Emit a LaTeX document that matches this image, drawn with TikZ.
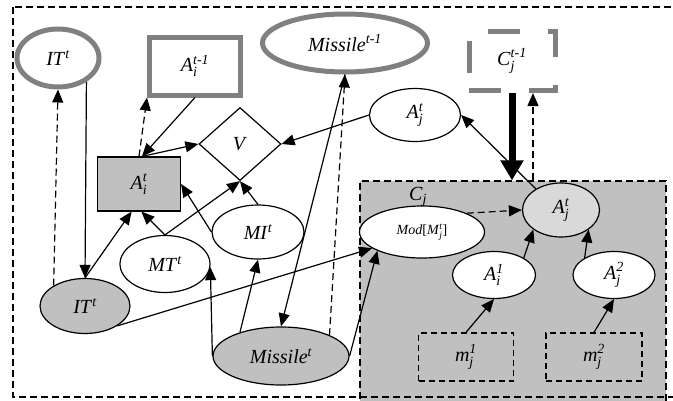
\documentclass[tikz,border=0pt]{standalone}
\usepackage{amsmath}
\usepackage{fontspec}
\setmainfont{Liberation Serif}
\usetikzlibrary{shapes.geometric,arrows.meta}
\definecolor{rimgray}{RGB}{128,128,128}
\definecolor{boxgray}{RGB}{192,192,192}
\definecolor{softgray}{RGB}{217,217,217}
\newcommand{\sps}[2]{\textit{#1}$^{\textit{#2}}$}
\newcommand{\sbsp}[3]{\textit{#1}$_{\textit{#2}}^{\textit{#3}}$}
\tikzset{
  var/.style={ellipse,draw,line width=1.2pt,inner sep=0pt,fill=white},
  obs/.style={var,fill=boxgray},
  oldvar/.style={ellipse,draw=rimgray,line width=5pt,inner sep=0pt},
  oldbox/.style={rectangle,draw=rimgray,line width=5pt,inner sep=0pt},
  msgbox/.style={rectangle,draw,line width=1.2pt,dash pattern=on 6pt off 4pt,inner sep=0pt},
  arr/.style={line width=1.2pt,-{Triangle[length=13pt,width=11pt]}},
  darr/.style={arr,dash pattern=on 7pt off 4pt}
}
\begin{document}
\begin{tikzpicture}[x=1pt,y=-1pt,font=\fontsize{20}{23}\selectfont]
\useasboundingbox (0,0) rectangle (673,400);
\node[rectangle,draw,fill=boxgray,line width=1.2pt,dash pattern=on 7pt off 4pt,minimum width=306pt,minimum height=222pt] (cj) at (513,292) {};
\draw[line width=1.2pt,dash pattern=on 7pt off 4pt] (13,7) rectangle (678,397);

\node[oldvar,minimum width=82pt,minimum height=58pt] (itp) at (58,58) {\sps{IT}{t}};
\node[oldbox,minimum width=91pt,minimum height=58pt] (aip) at (195,66) {\sbsp{A}{i}{t-1}};
\node[oldvar,minimum width=165pt,minimum height=58pt] (msp) at (345,43) {\sps{Missile}{t-1}};
\node[oldbox,dash pattern=on 32pt off 28pt,minimum width=86pt,minimum height=59pt] (cjp) at (512,61) {\sbsp{C}{j}{t-1}};
\node[var,minimum width=91pt,minimum height=53pt] (ajt) at (415,115) {\sbsp{A}{j}{t}};
\node[diamond,draw,line width=1.2pt,inner sep=0pt,minimum width=82pt,minimum height=73pt] (v) at (240,144) {\textit{V}};
\node[rectangle,draw,fill=boxgray,line width=1.2pt,minimum width=83pt,minimum height=54pt] (ait) at (139,184) {\sbsp{A}{i}{t}};
\node[var,minimum width=92pt,minimum height=54pt] (mi) at (258,232) {\sps{MI}{t}};
\node[var,minimum width=90pt,minimum height=57pt] (mt) at (165,264) {\sps{MT}{t}};
\node[obs,minimum width=90pt,minimum height=55pt] (itc) at (85,306) {\sps{IT}{t}};
\node[obs,minimum width=136pt,minimum height=58pt] (ms) at (281,356) {\sps{Missile}{t}};
\node[var,minimum width=125pt,minimum height=52pt,font=\fontsize{14}{16}\selectfont] (mod) at (422,232) {\textit{Mod}[\sbsp{M}{j}{t}]};
\node (cjlab) at (418,197) {\textit{C}$_{\textit{j}}$};
\node[var,fill=softgray,minimum width=77pt,minimum height=54pt] (ajg) at (561,210) {\sbsp{A}{j}{t}};
\node[var,minimum width=83pt,minimum height=47pt] (ai1) at (494,275) {\sbsp{A}{i}{1}};
\node[var,minimum width=82pt,minimum height=47pt] (aj2) at (614,275) {\sbsp{A}{j}{2}};
\node[msgbox,minimum width=95pt,minimum height=48pt] (m1) at (466,357) {\sbsp{m}{j}{1}};
\node[msgbox,minimum width=96pt,minimum height=48pt] (m2) at (594,357) {\sbsp{m}{j}{2}};

\draw[darr] (itc.147) -- (itp.south);
\draw[arr] (itp.320) -- (itc.north);
\draw[darr] (ait.north) -- (aip.south west);
\draw[arr] (aip.south) -- ([xshift=3pt]ait.north);
\draw[arr] ([xshift=3pt]ait.north) -- (v.west);
\draw[arr] (ajt.west) -- (v.east);
\draw[arr] (mt.north) -- (v.south);
\draw[arr] (mi.north) -- (v.south);
\draw[arr] (mt.north) -- (ait.-85);
\draw[arr] (itc.north) -- (ait.-105);
\draw[arr] (mi.west) -- (ait.east);
\draw[arr] (ms.west) -- (mt.-4);
\draw[arr] (ms.150) -- (mi.south);
\draw[arr] (msp.south) -- (ms.north);
\draw[darr] (ms.north east) -- (msp.south);
\draw[line width=7pt,-{Triangle[length=20pt,width=22pt]}] (cjp.south) -- (cjp.south |- cj.north);
\coordinate (cjd) at ([xshift=21pt]cjp.south);
\draw[darr] (cjd |- cj.north) -- (cjd);
\draw[arr] (ajg.140) -- (ajt.east);
\draw[darr] (mod.north east) -- (ajg.west);
\draw[arr] (ai1.north east) -- (ajg.south west);
\draw[arr] (aj2.north west) -- (ajg.south east);
\draw[arr] (m1.north) -- (ai1.south);
\draw[arr] (m2.north) -- (aj2.south);
\draw[arr] (itc.south east) -- (mod.198);
\draw[arr] (ms.east) -- (mod.south west);
\end{tikzpicture}
\end{document}
